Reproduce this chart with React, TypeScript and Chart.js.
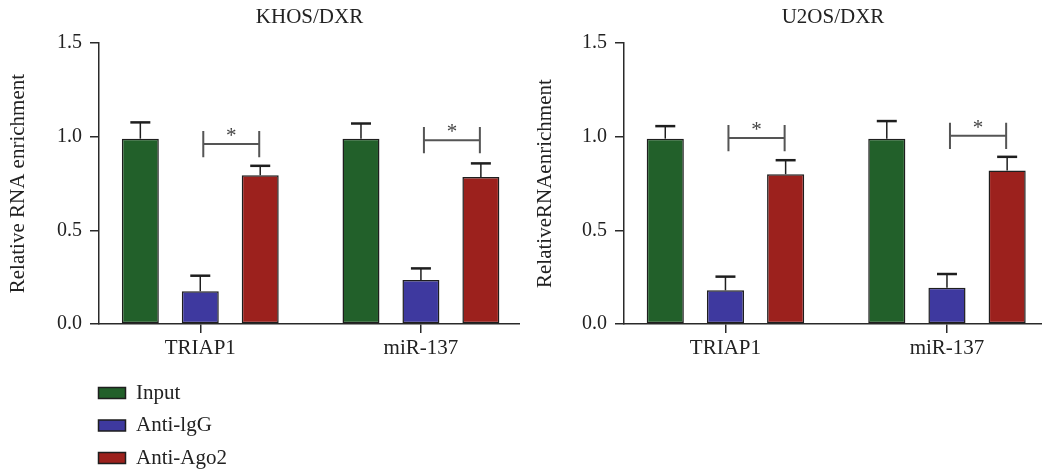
import React, { useEffect, useRef } from 'react';
import { Chart, registerables } from 'chart.js';

Chart.register(...registerables);
Chart.defaults.font.family = "'Liberation Serif', 'Times New Roman', serif";
Chart.defaults.font.size = 21;
Chart.defaults.color = '#222';

// ---------- data ----------
const categories = ['TRIAP1', 'miR-137'];
const seriesNames = ['Input', 'Anti-lgG', 'Anti-Ago2'];
const seriesColors = ['#22602A', '#3E399F', '#9C211D'];
const yTicks = [0, 0.5, 1.0, 1.5];

// KHOS/DXR
const khosInput = [0.99, 0.99];
const khosIgG = [0.175, 0.235];
const khosAgo2 = [0.795, 0.785];
const khosInputErr = [0.087, 0.081];
const khosIgGErr = [0.083, 0.062];
const khosAgo2Err = [0.05, 0.073];
const khosBracket = [0.961, 0.982];

// U2OS/DXR
const u2osInput = [0.99, 0.99];
const u2osIgG = [0.18, 0.194];
const u2osAgo2 = [0.8, 0.82];
const u2osInputErr = [0.067, 0.094];
const u2osIgGErr = [0.073, 0.073];
const u2osAgo2Err = [0.075, 0.073];
const u2osBracket = [0.993, 1.005];

const AXIS_COLOR = '#2a2a2a';

function errorBarPlugin(errs: number[][]) {
  return {
    id: 'errbars',
    afterDatasetsDraw(chart: any) {
      const ctx = chart.ctx;
      const ys = chart.scales.y;
      ctx.save();
      ctx.strokeStyle = '#1e1e1e';
      chart.data.datasets.forEach((ds: any, di: number) => {
        const meta = chart.getDatasetMeta(di);
        meta.data.forEach((bar: any, i: number) => {
          const v = ds.data[i].y;
          const base = ys.getPixelForValue(v);
          const top = ys.getPixelForValue(v + errs[di][i]);
          ctx.lineWidth = 1.5;
          ctx.beginPath();
          ctx.moveTo(bar.x, base);
          ctx.lineTo(bar.x, top);
          ctx.stroke();
          ctx.lineWidth = 2.5;
          ctx.beginPath();
          ctx.moveTo(bar.x - 10, top);
          ctx.lineTo(bar.x + 10, top);
          ctx.stroke();
        });
      });
      ctx.restore();
    },
  };
}

function bracketPlugin(levels: number[]) {
  return {
    id: 'brackets',
    afterDatasetsDraw(chart: any) {
      const ctx = chart.ctx;
      const ys = chart.scales.y;
      const m1 = chart.getDatasetMeta(1);
      const m2 = chart.getDatasetMeta(2);
      ctx.save();
      ctx.strokeStyle = '#555';
      ctx.fillStyle = '#444';
      ctx.lineWidth = 2;
      levels.forEach((lv, i) => {
        const x1 = m1.data[i].x + 3;
        const x2 = m2.data[i].x - 1;
        const y = ys.getPixelForValue(lv);
        const yT = ys.getPixelForValue(lv + 0.07);
        const yB = ys.getPixelForValue(lv - 0.07);
        ctx.beginPath();
        ctx.moveTo(x1, yT);
        ctx.lineTo(x1, yB);
        ctx.moveTo(x2, yT);
        ctx.lineTo(x2, yB);
        ctx.moveTo(x1, y);
        ctx.lineTo(x2, y);
        ctx.stroke();
        ctx.font = "21px 'Liberation Serif', serif";
        ctx.textAlign = 'center';
        ctx.textBaseline = 'alphabetic';
        ctx.fillText('*', (x1 + x2) / 2, y - 2);
      });
      ctx.restore();
    },
  };
}

type PanelProps = {
  left: number;
  width: number;
  title: string;
  yLabel: string;
  values: number[][];
  errs: number[][];
  brackets: number[];
  xMin: number;
  xMax: number;
  yAxisWidth: number;
  yTitlePad: number;
};

function Panel(p: PanelProps) {
  const ref = useRef<HTMLCanvasElement | null>(null);
  useEffect(() => {
    if (!ref.current) return;
    const gridOpts = {
      display: true,
      drawOnChartArea: false,
      drawTicks: true,
      tickLength: 9,
      color: AXIS_COLOR,
      lineWidth: 1.5,
      offset: false,
    };
    const chart = new Chart(ref.current, {
      type: 'bar',
      data: {
        datasets: seriesNames.map((name, s) => ({
          label: name,
          data: categories.map((_, i) => ({ x: i, y: p.values[s][i] })),
          backgroundColor: seriesColors[s],
          borderColor: '#1e1e1e',
          borderWidth: 1.5,
          borderSkipped: false,
          categoryPercentage: 0.815,
          barPercentage: 0.617,
        })),
      },
      options: {
        responsive: false,
        animation: false,
        layout: { padding: 0 },
        plugins: {
          legend: { display: false },
          tooltip: { enabled: false },
          title: {
            display: true,
            text: p.title,
            fullSize: false,
            color: '#222',
            font: { size: 21, weight: 'normal' },
            padding: { top: 5, bottom: 13 },
          },
        },
        scales: {
          x: {
            type: 'linear',
            min: p.xMin,
            max: p.xMax,
            offset: false,
            afterBuildTicks: (s: any) => {
              s.ticks = categories.map((_, i) => ({ value: i }));
            },
            afterFit: (s: any) => {
              s.height = 36;
            },
            ticks: {
              callback: (v: any) => categories[Number(v)] ?? '',
              padding: 3,
              maxRotation: 0,
              autoSkip: false,
              color: '#222',
              font: { size: 21 },
            },
            grid: gridOpts,
            border: { display: true, color: AXIS_COLOR, width: 1.5 },
          },
          y: {
            min: 0,
            max: 1.5,
            afterBuildTicks: (s: any) => {
              s.ticks = yTicks.map((v) => ({ value: v }));
            },
            afterFit: (s: any) => {
              s.width = p.yAxisWidth;
            },
            ticks: {
              callback: (v: any) => Number(v).toFixed(1),
              padding: 8,
              color: '#222',
              font: { size: 20 },
            },
            grid: gridOpts,
            border: { display: true, color: AXIS_COLOR, width: 1.5 },
            title: {
              display: true,
              text: p.yLabel,
              color: '#222',
              font: { size: 21 },
              padding: { top: p.yTitlePad, bottom: 0 },
            },
          },
        },
      } as any,
      plugins: [errorBarPlugin(p.errs), bracketPlugin(p.brackets)],
    } as any);
    return () => chart.destroy();
  }, []);
  return (
    <canvas
      ref={ref}
      width={p.width}
      height={360}
      style={{ position: 'absolute', left: p.left, top: 0, width: p.width, height: 360, display: 'block' }}
    />
  );
}

function LegendChart() {
  const ref = useRef<HTMLCanvasElement | null>(null);
  useEffect(() => {
    if (!ref.current) return;
    const chart = new Chart(ref.current, {
      type: 'bar',
      data: {
        labels: [],
        datasets: seriesNames.map((name, s) => ({
          label: name,
          data: [],
          backgroundColor: seriesColors[s],
          borderColor: '#1e1e1e',
          borderWidth: 1.5,
        })),
      },
      options: {
        responsive: false,
        animation: false,
        layout: { padding: 0 },
        plugins: {
          legend: {
            display: true,
            position: 'left',
            align: 'start',
            labels: {
              boxWidth: 27,
              boxHeight: 11,
              padding: 11.5,
              color: '#222',
              font: { size: 21 },
            },
          },
          tooltip: { enabled: false },
        },
        scales: { x: { display: false }, y: { display: false } },
      } as any,
    } as any);
    return () => chart.destroy();
  }, []);
  return (
    <canvas
      ref={ref}
      width={300}
      height={120}
      style={{ position: 'absolute', left: 86.5, top: 370.5, width: 300, height: 120, display: 'block' }}
    />
  );
}

export default function App() {
  return (
    <div style={{ position: 'absolute', left: 0, top: 0, width: 1042, height: 472, background: '#fff', overflow: 'hidden' }}>
      <Panel
        left={0}
        width={520}
        title="KHOS/DXR"
        yLabel="Relative RNA enrichment"
        values={[khosInput, khosIgG, khosAgo2]}
        errs={[khosInputErr, khosIgGErr, khosAgo2Err]}
        brackets={khosBracket}
        xMin={-0.459}
        xMax={1.449}
        yAxisWidth={99}
        yTitlePad={6}
      />
      <Panel
        left={520}
        width={522}
        title="U2OS/DXR"
        yLabel="RelativeRNAenrichment"
        values={[u2osInput, u2osIgG, u2osAgo2]}
        errs={[u2osInputErr, u2osIgGErr, u2osAgo2Err]}
        brackets={u2osBracket}
        xMin={-0.458}
        xMax={1.429}
        yAxisWidth={104}
        yTitlePad={13}
      />
      <LegendChart />
    </div>
  );
}
